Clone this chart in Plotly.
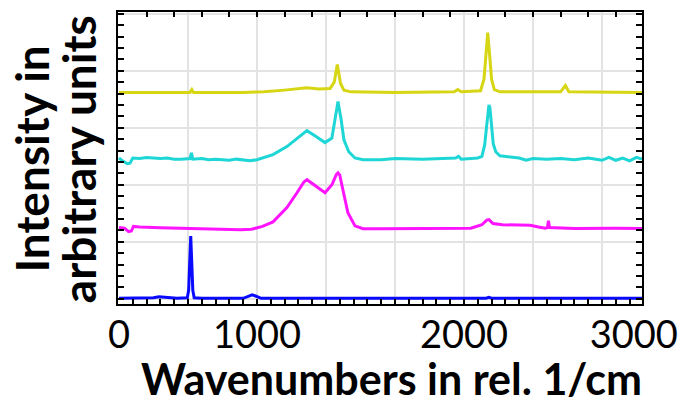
import plotly.graph_objects as go

# ---------------- data ----------------
blue_wn = [0, 150, 250, 290, 330, 420, 495, 505, 512, 520, 528, 535, 545, 600, 900,
           940, 965, 990, 1030, 1500, 2000, 2660, 2680, 2700, 3000, 3790]
blue_int = [0.01, 0.01, 0.02, 0.035, 0.03, 0.01, 0.02, 0.15, 0.60, 1.10, 0.60, 0.15, 0.02, 0.01, 0.01,
            0.05, 0.07, 0.05, 0.01, 0.01, 0.01, 0.01, 0.025, 0.01, 0.01, 0.01]

magenta_wn = [0, 40, 70, 90, 105, 150, 300, 500, 700, 880, 960, 1040, 1116, 1217, 1290, 1340,
              1362, 1380, 1420, 1493, 1543, 1575, 1587, 1600, 1623, 1659, 1710, 1768, 1900,
              2300, 2550, 2630, 2665, 2681, 2710, 2780, 2900, 2980, 3040, 3090, 3105, 3112,
              3120, 3300, 3600, 3790]
magenta_int = [1.25, 1.24, 1.18, 1.19, 1.27, 1.26, 1.245, 1.235, 1.23, 1.21, 1.22, 1.27, 1.35, 1.60, 1.86, 2.05,
               2.09, 2.06, 1.98, 1.86, 2.00, 2.18, 2.21, 2.17, 1.91, 1.51, 1.28, 1.23, 1.23,
               1.235, 1.24, 1.30, 1.38, 1.39, 1.32, 1.30, 1.30, 1.29, 1.26, 1.24, 1.25, 1.37,
               1.25, 1.235, 1.24, 1.235]

cyan_wn = [0, 20, 60, 80, 100, 150, 200, 250, 300, 350, 400, 450, 515, 525, 535, 600, 650,
           700, 800, 850, 950, 1000, 1116, 1217, 1290, 1362, 1420, 1493, 1543, 1565, 1587,
           1610, 1630, 1665, 1710, 1768, 1900, 2000, 2200, 2440, 2460, 2480, 2600, 2630,
           2650, 2665, 2675, 2681, 2688, 2698, 2712, 2730, 2760, 2900, 2950, 3000, 3100,
           3200, 3300, 3400, 3500, 3550, 3600, 3650, 3700, 3750, 3790]
cyan_int = [2.47, 2.43, 2.37, 2.38, 2.47, 2.46, 2.48, 2.47, 2.46, 2.47, 2.45, 2.45, 2.46, 2.56, 2.45, 2.46, 2.44,
            2.45, 2.43, 2.45, 2.42, 2.44, 2.53, 2.67, 2.81, 2.95, 2.86, 2.74, 2.82, 3.14, 3.46,
            3.14, 2.79, 2.58, 2.47, 2.44, 2.44, 2.46, 2.45, 2.47, 2.50, 2.45, 2.47, 2.50,
            2.70, 3.05, 3.35, 3.40, 3.35, 3.05, 2.72, 2.58, 2.51, 2.47, 2.43, 2.46, 2.45,
            2.46, 2.44, 2.47, 2.43, 2.48, 2.43, 2.47, 2.42, 2.48, 2.45]

yellow_wn = [0, 300, 515, 528, 540, 900, 1050, 1200, 1300, 1360, 1450, 1530, 1560, 1575,
             1582, 1590, 1605, 1630, 1680, 2000, 2430, 2455, 2480, 2620, 2645, 2660, 2672,
             2685, 2700, 2720, 2760, 3200, 3235, 3260, 3790]
yellow_int = [3.62, 3.62, 3.62, 3.67, 3.62, 3.62, 3.63, 3.66, 3.69, 3.70, 3.68, 3.69, 3.80, 4.00,
              4.11, 4.00, 3.78, 3.66, 3.63, 3.62, 3.63, 3.67, 3.63, 3.65, 3.85, 4.30, 4.67,
              4.30, 3.85, 3.67, 3.63, 3.63, 3.74, 3.63, 3.62]

# tick labels as they appear under the axis
xtick_pos = [0, 1000, 2500, 3730]
xtick_text = ["0", "1000", "2000", "3000"]

x_title = "<b>Wavenumbers in rel. 1/cm</b>"
y_title_lines = ["<b>Intensity in</b>", "<b>arbitrary units</b>"]

XR = [-7, 3790]
YR = [-0.09, 5.03]

series = [
    (blue_wn, blue_int, "#0a0aff"),
    (magenta_wn, magenta_int, "#ff14ff"),
    (cyan_wn, cyan_int, "#1ed6d6"),
    (yellow_wn, yellow_int, "#d6d614"),
]

fig = go.Figure()
for wn, it, col in series:
    fig.add_trace(go.Scatter(x=wn, y=it, mode="lines", line=dict(color=col, width=3),
                             showlegend=False, hoverinfo="skip"))
# empty traces so the overlay axes are drawn
fig.add_trace(go.Scatter(x=[], y=[], xaxis="x2", showlegend=False, hoverinfo="skip"))
fig.add_trace(go.Scatter(x=[], y=[], xaxis="x3", showlegend=False, hoverinfo="skip"))

grid = "#e3e3e3"
fig.update_layout(
    width=689, height=404,
    margin=dict(l=118, r=47, t=12, b=100),
    paper_bgcolor="white", plot_bgcolor="white",
    font=dict(family="Lato", color="black"),
    xaxis=dict(range=XR, tick0=0, dtick=500, ticks="inside", ticklen=5, tickwidth=1.5,
               tickcolor="black", showticklabels=False, showgrid=True, gridcolor=grid,
               gridwidth=1.5, zeroline=False, showline=True, linecolor="black", linewidth=2,
               minor=dict(tick0=0, dtick=100, ticks="inside", ticklen=5, tickwidth=1.5,
                          tickcolor="black", showgrid=False)),
    xaxis2=dict(range=XR, overlaying="x", side="top", anchor="y", tick0=0, dtick=200,
                ticks="inside", ticklen=5, tickwidth=1.5, tickcolor="black",
                showticklabels=False, showgrid=False, zeroline=False, showline=True,
                linecolor="black", linewidth=2),
    xaxis3=dict(range=XR, overlaying="x", side="bottom", anchor="y", tickmode="array",
                tickvals=xtick_pos, ticktext=xtick_text, ticks="", showgrid=False,
                zeroline=False, showline=False, tickfont=dict(family="Lato", size=38),
                ticklabelstandoff=5),
    yaxis=dict(range=YR, tick0=0, dtick=1, ticks="inside", ticklen=6, tickwidth=1.5,
               tickcolor="black", showticklabels=False, showgrid=True, gridcolor=grid,
               gridwidth=1.5, zeroline=False, showline=True, linecolor="black",
               linewidth=2, mirror="ticks",
               minor=dict(tick0=0, dtick=0.2, ticks="inside", ticklen=6, tickwidth=1.5,
                          tickcolor="black", showgrid=False)),
)

fig.add_annotation(text=x_title, xref="paper", yref="paper", x=0.522, y=-0.256,
                   xanchor="center", yanchor="middle", showarrow=False,
                   font=dict(family="Lato", size=43, color="black"))
for txt, xp in zip(y_title_lines, [-0.166, -0.075]):
    fig.add_annotation(text=txt, xref="paper", yref="paper", x=xp, y=0.495,
                       xanchor="center", yanchor="middle", showarrow=False, textangle=-90,
                       font=dict(family="Lato", size=46, color="black"))

fig.write_html("out.html")
